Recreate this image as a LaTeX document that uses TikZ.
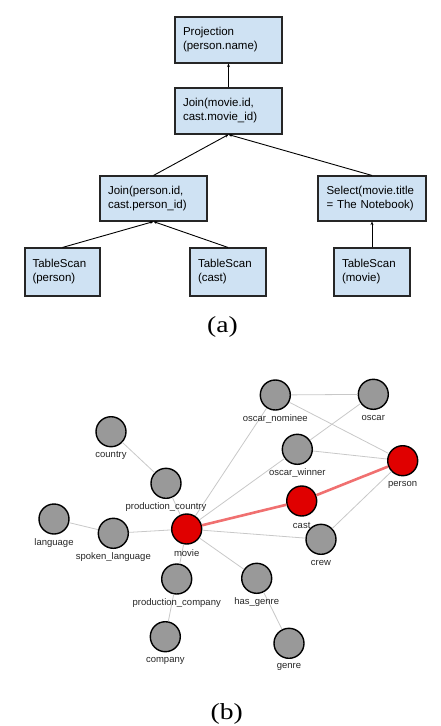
\documentclass[tikz,border=0pt]{standalone}
\usepackage{fontspec}
\setmainfont{Liberation Sans}
\newfontfamily\capfont{Liberation Serif}
\usetikzlibrary{arrows.meta}
\definecolor{boxblue}{HTML}{CFE2F3}
\definecolor{nodegray}{HTML}{999999}
\definecolor{nodered}{HTML}{E00000}
\definecolor{edgegray}{HTML}{C8C8C8}
\definecolor{edgered}{HTML}{F07070}
\tikzset{
  opbox/.style={draw=black!85, line width=1.1pt, fill=boxblue, align=left,
    font=\fontsize{11.5}{14}\selectfont, inner sep=0pt, anchor=center},
  wide/.style={opbox, minimum width=107pt, minimum height=46pt, text width=91pt},
  narrow/.style={opbox, minimum width=76pt, minimum height=48pt, text width=60pt},
  flow/.style={-{Stealth[length=3.5pt,width=3pt]}, line width=0.9pt, black},
  gnode/.style={circle, draw=black, line width=1.4pt, minimum size=30pt, inner sep=0pt, fill=nodegray},
  rnode/.style={gnode, fill=nodered},
  glbl/.style={font=\fontsize{9.5}{10}\selectfont, text=black!85, inner sep=0pt},
  gedge/.style={draw=edgegray, line width=0.8pt},
  redge/.style={draw=edgered, line width=2.6pt},
  caption/.style={font=\capfont\fontsize{23}{26}\selectfont, xscale=1.2, inner sep=0pt}
}
\begin{document}
\begin{tikzpicture}[x=1pt,y=-1pt]
\useasboundingbox (0,0) rectangle (441,726);
% (a) plan
\node[wide] (proj) at (228.5,40) {Projection\\(person.name)};
\node[wide] (j1) at (228.5,111) {Join(movie.id,\\cast.movie\_id)};
\node[wide, minimum height=45pt] (jp) at (153.5,198.5) {Join(person.id,\\cast.person\_id)};
\node[wide, minimum height=45pt, minimum width=108pt] (sel) at (372,198.5) {Select(movie.title\\= The Notebook)};
\node[narrow, minimum width=75pt] (tsp) at (62.5,272) {TableScan\\(person)};
\node[narrow] (tsc) at (228,272) {TableScan\\(cast)};
\node[narrow] (tsm) at (372,272) {TableScan\\(movie)};
\draw[flow] (j1.north) -- (proj.south);
\draw[flow] (jp.north) -- (j1.south);
\draw[flow] (sel.north) -- (j1.south);
\draw[flow] (tsp.north) -- (jp.south);
\draw[flow] (tsc.north) -- (jp.south);
\draw[flow] (tsm.north) -- (sel.south);
\node[caption] (capa) at (222.5,327) {(a)};
% (b) graph
\node[gnode] (nom) at (275.3,395) {};
\node[gnode] (osc) at (373.3,394.3) {};
\node[gnode] (cty) at (111,431.7) {};
\node[gnode] (win) at (297.3,449.3) {};
\node[rnode] (per) at (402.7,460.7) {};
\node[gnode] (pco) at (166,483.3) {};
\node[rnode] (cas) at (301.7,501) {};
\node[gnode] (lan) at (54,519) {};
\node[gnode] (spl) at (113.3,533.3) {};
\node[rnode] (mov) at (186.7,529) {};
\node[gnode] (crw) at (321,539.3) {};
\node[gnode] (pcm) at (176.7,579) {};
\node[gnode] (hg) at (256.7,578.3) {};
\node[gnode] (com) at (165.3,636.7) {};
\node[gnode] (gen) at (289,643.3) {};
\draw[gedge] (nom) -- (osc);
\draw[gedge] (nom) -- (per);
\draw[gedge] (nom) -- (mov);
\draw[gedge] (osc) -- (win);
\draw[gedge] (win) -- (per);
\draw[gedge] (win) -- (mov);
\draw[gedge] (cty) -- (pco);
\draw[gedge] (pco) -- (mov);
\draw[gedge] (lan) -- (spl);
\draw[gedge] (spl) -- (mov);
\draw[gedge] (mov) -- (crw);
\draw[gedge] (crw) -- (per);
\draw[gedge] (mov) -- (pcm);
\draw[gedge] (pcm) -- (com);
\draw[gedge] (mov) -- (hg);
\draw[gedge] (hg) -- (gen);
\draw[redge] (mov) -- (cas);
\draw[redge] (cas) -- (per);
\node[glbl] (lnom) at (275.3,419) {oscar\_nominee};
\node[glbl] (losc) at (373.3,418.3) {oscar};
\node[glbl] (lcty) at (111,455.7) {country};
\node[glbl] (lwin) at (297.3,473.3) {oscar\_winner};
\node[glbl] (lper) at (402.7,484.7) {person};
\node[glbl] (lpco) at (166,507.3) {production\_country};
\node[glbl] (lcas) at (301.7,525) {cast};
\node[glbl] (llan) at (54,543) {language};
\node[glbl] (lspl) at (113.3,557.3) {spoken\_language};
\node[glbl] (lmov) at (186.7,553) {movie};
\node[glbl] (lcrw) at (321,563.3) {crew};
\node[glbl] (lpcm) at (176.7,603) {production\_company};
\node[glbl] (lhg) at (256.7,602.3) {has\_genre};
\node[glbl] (lcom) at (165.3,660.7) {company};
\node[glbl] (lgen) at (289,667.3) {genre};
\node[caption] (capb) at (226.7,714) {(b)};
\end{tikzpicture}
\end{document}
